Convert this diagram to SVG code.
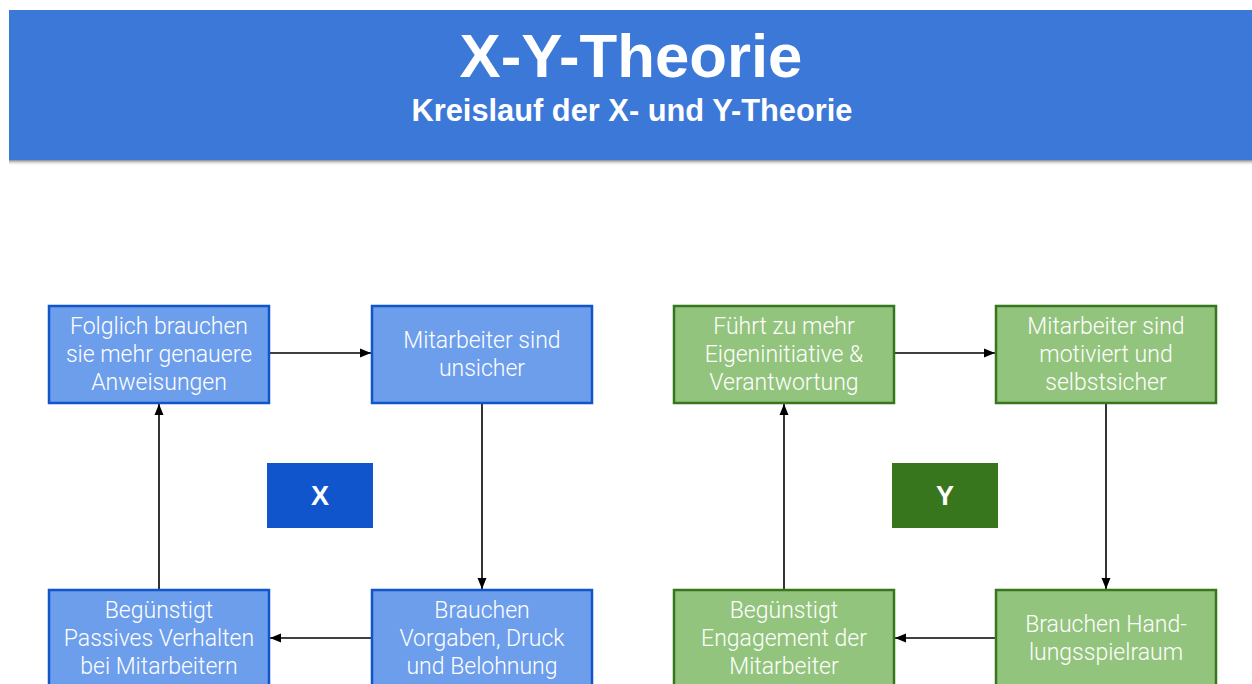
<svg xmlns="http://www.w3.org/2000/svg" width="1252" height="684" viewBox="0 0 1252 684">
<defs>
<linearGradient id="shadow" x1="0" y1="0" x2="0" y2="1">
<stop offset="0" stop-color="#888"/>
<stop offset="1" stop-color="#fff" stop-opacity="0"/>
</linearGradient>
<marker id="arr" viewBox="0 0 11 10" refX="11" refY="5" markerWidth="11" markerHeight="10" markerUnits="userSpaceOnUse" orient="auto">
<path d="M0,0.5 L11,5 L0,9.5 Z" fill="#000"/>
</marker>
</defs>
<style>
.hdr{fill:#3c78d8}
.title{font-family:"Liberation Sans",Arial,sans-serif;font-weight:bold;fill:#fff;text-anchor:middle}
.bx{fill:#6d9eeb;stroke:#1155cc;stroke-width:2.5}
.gx{fill:#93c47d;stroke:#38761d;stroke-width:2.5}
.t{font-family:Roboto,"Noto Sans",sans-serif;font-size:23px;font-weight:300;fill:#fff;text-anchor:middle}
.lbl{font-family:"Liberation Sans",Arial,sans-serif;font-weight:bold;font-size:27px;fill:#fff;text-anchor:middle}
.c{stroke:#000;stroke-width:1.6;fill:none;marker-end:url(#arr)}
</style>
<rect width="1252" height="684" fill="#fff"/>
<g id="header">
<rect x="9" y="160" width="1243" height="6" fill="url(#shadow)"/>
<rect class="hdr" x="9" y="10" width="1243" height="150"/>
<text class="title" x="631" y="77" font-size="61.7">X-Y-Theorie</text>
<text class="title" x="632" y="121" font-size="30.8">Kreislauf der X- und Y-Theorie</text>
</g>
<g id="connectors">
<line class="c" x1="270" y1="353" x2="371" y2="353"/>
<line class="c" x1="482" y1="404" x2="482" y2="589"/>
<line class="c" x1="371" y1="638" x2="270" y2="638"/>
<line class="c" x1="159" y1="589" x2="159" y2="404"/>
<line class="c" x1="895" y1="353" x2="995" y2="353"/>
<line class="c" x1="1106" y1="404" x2="1106" y2="589"/>
<line class="c" x1="995" y1="638" x2="895" y2="638"/>
<line class="c" x1="784" y1="589" x2="784" y2="404"/>
</g>
<g id="x1">
<rect class="bx" x="49" y="306" width="220" height="97"/>
<text class="t" x="159" y="334">Folglich brauchen</text>
<text class="t" x="159" y="362">sie mehr genauere</text>
<text class="t" x="159" y="390">Anweisungen</text>
</g>
<g id="x2">
<rect class="bx" x="372" y="306" width="220" height="97"/>
<text class="t" x="482" y="348">Mitarbeiter sind</text>
<text class="t" x="482" y="376">unsicher</text>
</g>
<g id="x3">
<rect class="bx" x="372" y="590" width="220" height="97"/>
<text class="t" x="482" y="618">Brauchen</text>
<text class="t" x="482" y="646">Vorgaben, Druck</text>
<text class="t" x="482" y="674">und Belohnung</text>
</g>
<g id="x4">
<rect class="bx" x="49" y="590" width="220" height="97"/>
<text class="t" x="159" y="618">Begünstigt</text>
<text class="t" x="159" y="646">Passives Verhalten</text>
<text class="t" x="159" y="674">bei Mitarbeitern</text>
</g>
<g id="xlabel">
<rect x="267" y="463" width="106" height="65" fill="#1155cc"/>
<text class="lbl" x="320" y="505">X</text>
</g>
<g id="y1">
<rect class="gx" x="674" y="306" width="220" height="97"/>
<text class="t" x="784" y="334">Führt zu mehr</text>
<text class="t" x="784" y="362">Eigeninitiative &amp;</text>
<text class="t" x="784" y="390">Verantwortung</text>
</g>
<g id="y2">
<rect class="gx" x="996" y="306" width="220" height="97"/>
<text class="t" x="1106" y="334">Mitarbeiter sind</text>
<text class="t" x="1106" y="362">motiviert und</text>
<text class="t" x="1106" y="390">selbstsicher</text>
</g>
<g id="y3">
<rect class="gx" x="996" y="590" width="220" height="97"/>
<text class="t" x="1106" y="632">Brauchen Hand-</text>
<text class="t" x="1106" y="660">lungsspielraum</text>
</g>
<g id="y4">
<rect class="gx" x="674" y="590" width="220" height="97"/>
<text class="t" x="784" y="618">Begünstigt</text>
<text class="t" x="784" y="646">Engagement der</text>
<text class="t" x="784" y="674">Mitarbeiter</text>
</g>
<g id="ylabel">
<rect x="892" y="463" width="106" height="65" fill="#38761d"/>
<text class="lbl" x="945" y="505">Y</text>
</g>
</svg>
